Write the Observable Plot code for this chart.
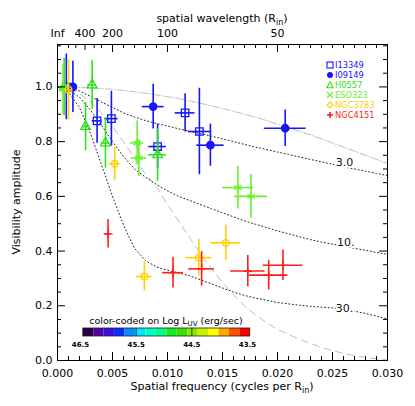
<!DOCTYPE html>
<html><head><meta charset="utf-8">
<script src="https://cdn.jsdelivr.net/npm/d3@7"></script>
<script src="https://cdn.jsdelivr.net/npm/@observablehq/plot@0.6"></script>
<style>
body{margin:0;background:#fff;}
#chart{width:415px;height:406px;position:relative;}
</style></head><body><div id="chart"></div>
<script>
// ---------- data ----------
const objects = ["I13349","I09149","H0557","ESO323","NGC3783","NGC4151"];
const objectColors = ["#1414ff","#1414ff","#2ee01c","#6cf02c","#ffd000","#ff1c1c"];

const i13349Freq = [0.0008, 0.0036, 0.0049, 0.0091, 0.0116, 0.0129];
const i13349Vis = [1.0, 0.876, 0.884, 0.782, 0.905, 0.837];
const i13349FreqErr = [0.0003, 0.00045, 0.0006, 0.0008, 0.0009, 0.001];
const i13349VisErr = [0.12, 0.082, 0.10, 0.082, 0.07, 0.158];

const i09149Freq = [0.0014, 0.0087, 0.0139, 0.0207];
const i09149Vis = [1.0, 0.928, 0.787, 0.849];
const i09149FreqErr = [0.0003, 0.001, 0.00124, 0.0019];
const i09149VisErr = [0.094, 0.082, 0.077, 0.067];

const h0557Freq = [0.0006, 0.00255, 0.00315, 0.00436, 0.0091];
const h0557Vis = [1.0, 0.855, 1.007, 0.795, 0.752];
const h0557FreqErr = [0.0003, 0.0003, 0.0004, 0.0004, 0.0008];
const h0557VisErr = [0.105, 0.088, 0.089, 0.092, 0.097];

const eso323Freq = [0.0005, 0.00724, 0.0074, 0.0164, 0.0176];
const eso323Vis = [0.99, 0.795, 0.74, 0.632, 0.60];
const eso323FreqErr = [0.0003, 0.0006, 0.0007, 0.0014, 0.0015];
const eso323VisErr = [0.09, 0.08, 0.067, 0.078, 0.08];

const ngc3783Freq = [0.001, 0.0052, 0.0079, 0.01285, 0.0153];
const ngc3783Vis = [0.99, 0.719, 0.307, 0.376, 0.43];
const ngc3783FreqErr = [0.0003, 0.0005, 0.0007, 0.00117, 0.00133];
const ngc3783VisErr = [0.11, 0.06, 0.052, 0.067, 0.064];

const ngc4151Freq = [0.0046, 0.0105, 0.0131, 0.0173, 0.0192, 0.0205];
const ngc4151Vis = [0.463, 0.321, 0.335, 0.327, 0.312, 0.348];
const ngc4151FreqErr = [0.0003, 0.00095, 0.00117, 0.00156, 0.00175, 0.0018];
const ngc4151VisErr = [0.052, 0.056, 0.063, 0.057, 0.054, 0.056];

// model curves
const curveFreq = [0,0.001,0.002,0.003,0.004,0.005,0.006,0.007,0.008,0.009,0.010,0.011,0.012,0.013,0.014,0.015,0.016,0.017,0.018,0.019,0.020,0.021,0.022,0.023,0.024,0.025,0.026,0.027,0.028,0.029,0.030];
const curve3 = [1.0,0.997,0.985,0.965,0.945,0.925,0.905,0.89,0.877,0.866,0.857,0.847,0.838,0.829,0.82,0.81,0.80,0.79,0.78,0.771,0.762,0.753,0.744,0.735,0.726,0.717,0.708,0.70,0.692,0.684,0.676];
const curve10 = [1.0,0.99,0.962,0.915,0.86,0.80,0.745,0.70,0.67,0.643,0.62,0.60,0.585,0.57,0.555,0.54,0.525,0.51,0.498,0.486,0.474,0.463,0.452,0.442,0.433,0.425,0.418,0.41,0.403,0.395,0.388];
const curve30 = [1.0,0.98,0.925,0.83,0.715,0.60,0.495,0.41,0.365,0.342,0.33,0.32,0.31,0.295,0.28,0.265,0.25,0.238,0.228,0.22,0.212,0.207,0.202,0.198,0.195,0.192,0.188,0.18,0.172,0.162,0.152];
const curveGrayDashDot = [1.0,0.9995,0.998,0.996,0.994,0.991,0.987,0.982,0.977,0.971,0.964,0.957,0.949,0.94,0.931,0.921,0.911,0.9,0.889,0.877,0.864,0.851,0.838,0.824,0.81,0.795,0.78,0.765,0.75,0.735,0.72];
const curveGrayDash = [1.0,0.994,0.975,0.945,0.905,0.855,0.80,0.74,0.68,0.635,0.57,0.51,0.45,0.39,0.335,0.285,0.24,0.20,0.167,0.138,0.114,0.095,0.078,0.062,0.048,0.036,0.026,0.018,0.011,0.006,0.003];
const curveLabels = ["3.0","10.","30."];
const curveLabelFreq = [0.0261, 0.0262, 0.0261];
const curveLabelVis = [0.724, 0.43, 0.192];

// axes
const bottomTicks = [0, 0.005, 0.010, 0.015, 0.020, 0.025, 0.030];
const yTicks = [0, 0.2, 0.4, 0.6, 0.8, 1.0];
const topWavelengths = [Infinity, 400, 200, 100, 50];
const topLabels = ["Inf", "400", "200", "100", "50"];
const topMinorWavelengths = [1000, 600, 300, 250];

// colour bar
const cbColors = ["#2a0040","#5800a8","#3a12e0","#0a2cff","#0a8cff","#00e6ff","#00ffc8","#00ff84","#10f020","#3ce000","#84ea00","#c8f000","#ffff00","#ffaa00","#ff5000","#ff0000"];
const cbTicks = [46.5, 45.5, 44.5, 43.5];
const cbStart = 46.45, cbEnd = 43.45;

// ---------- build ----------
const W = 415, H = 406, mL = 57, mR = 28, mT = 44, mB = 46;
const pW = W - mL - mR, pH = H - mT - mB;

const series = [
  {name: "I13349", f: i13349Freq, v: i13349Vis, fe: i13349FreqErr, ve: i13349VisErr, symbol: "square", fill: "none", r: 4.2},
  {name: "I09149", f: i09149Freq, v: i09149Vis, fe: i09149FreqErr, ve: i09149VisErr, symbol: "circle", fill: "color", r: 3.7},
  {name: "H0557", f: h0557Freq, v: h0557Vis, fe: h0557FreqErr, ve: h0557VisErr, symbol: "triangle", fill: "none", r: 3.6},
  {name: "ESO323", f: eso323Freq, v: eso323Vis, fe: eso323FreqErr, ve: eso323VisErr, symbol: "asterisk", fill: "none", r: 4},
  {name: "NGC3783", f: ngc3783Freq, v: ngc3783Vis, fe: ngc3783FreqErr, ve: ngc3783VisErr, symbol: "circle", fill: "none", r: 3.3},
  {name: "NGC4151", f: ngc4151Freq, v: ngc4151Vis, fe: ngc4151FreqErr, ve: ngc4151VisErr, symbol: "plus", fill: "none", r: 3}
];

const curveRows = curveFreq.map((f, i) => ({f, c3: curve3[i], c10: curve10[i], c30: curve30[i], gdd: curveGrayDashDot[i], gd: curveGrayDash[i]}));
const labelRows = curveLabels.map((t, i) => ({t, f: curveLabelFreq[i], v: curveLabelVis[i]}));

const bottomMinor = d3.range(0, 31).map(k => k / 1000).filter(f => !bottomTicks.some(t => Math.abs(t - f) < 1e-9));
const yMinor = d3.range(0, 24).map(k => k * 0.05).filter(v => v <= 1.155 && !yTicks.some(t => Math.abs(t - v) < 1e-9));
const topFreqs = topWavelengths.map(w => 1 / w);
const topLabelMap = new Map(topFreqs.map((f, i) => [f, topLabels[i]]));
const topMajor = topFreqs.filter((f, i) => topLabels[i] !== "400");
const topMid = topFreqs.filter((f, i) => topLabels[i] === "400");
const topMinor = topMinorWavelengths.map(w => 1 / w).concat(d3.range(6, 30).map(k => k / 1000).filter(f => Math.abs(f - 0.01) > 1e-9 && Math.abs(f - 0.02) > 1e-9));

const marks = [];
// curves
marks.push(Plot.line(curveRows, {x: "f", y: "gdd", stroke: "#bdbdbd", strokeWidth: 1, strokeDasharray: "7,2,1,2"}));
marks.push(Plot.line(curveRows, {x: "f", y: "gd", stroke: "#bdbdbd", strokeWidth: 1, strokeDasharray: "7,5"}));
for (const k of ["c3", "c10", "c30"]) {
  marks.push(Plot.line(curveRows, {x: "f", y: k, stroke: "#222", strokeWidth: 1, strokeDasharray: "1,2.6"}));
}
marks.push(Plot.text(labelRows, {x: "f", y: "v", text: "t", fill: "#111", stroke: "white", strokeWidth: 4, paintOrder: "stroke", fontSize: 11}));
// data
series.forEach((s, si) => {
  const color = objectColors[si];
  const rows = s.f.map((f, i) => ({f, v: s.v[i], fe: s.fe[i], ve: s.ve[i]}));
  marks.push(Plot.ruleX(rows, {x: "f", y1: d => d.v - d.ve, y2: d => d.v + d.ve, stroke: color, strokeWidth: 1.6}));
  marks.push(Plot.ruleY(rows, {y: "v", x1: d => d.f - d.fe, x2: d => d.f + d.fe, stroke: color, strokeWidth: 1.6}));
  marks.push(Plot.dot(rows, {x: "f", y: "v", symbol: s.symbol, r: s.r, stroke: color, strokeWidth: 1.3, fill: s.fill === "color" ? color : "none"}));
});
// ticks (inward, IDL style)
marks.push(Plot.gridX(bottomTicks, {stroke: "black", strokeOpacity: 1, insetTop: pH - 8}));
marks.push(Plot.gridX(bottomMinor, {stroke: "black", strokeOpacity: 1, insetTop: pH - 4}));
marks.push(Plot.gridX(topMajor, {stroke: "black", strokeOpacity: 1, insetBottom: pH - 8}));
marks.push(Plot.gridX(topMid, {stroke: "black", strokeOpacity: 1, insetBottom: pH - 6}));
marks.push(Plot.gridX(topMinor, {stroke: "black", strokeOpacity: 1, insetBottom: pH - 4}));
marks.push(Plot.gridY(yTicks, {stroke: "black", strokeOpacity: 1, insetRight: pW - 8}));
marks.push(Plot.gridY(yMinor, {stroke: "black", strokeOpacity: 1, insetRight: pW - 4}));
marks.push(Plot.gridY(yTicks, {stroke: "black", strokeOpacity: 1, insetLeft: pW - 8}));
marks.push(Plot.gridY(yMinor, {stroke: "black", strokeOpacity: 1, insetLeft: pW - 4}));
marks.push(Plot.frame({stroke: "black", strokeWidth: 1}));
marks.push(Plot.axisX({anchor: "bottom", ticks: bottomTicks, tickSize: 0, tickPadding: 9, tickFormat: d3.format(".3f"), label: null}));
marks.push(Plot.axisX({anchor: "top", ticks: topFreqs, tickSize: 0, tickPadding: 8, tickFormat: d => topLabelMap.get(d), label: null}));
marks.push(Plot.axisY({anchor: "left", ticks: yTicks, tickSize: 0, tickPadding: 5, tickFormat: d3.format(".1f"), label: null}));

const svgNode = Plot.plot({
  width: W, height: H, marginLeft: mL, marginRight: mR, marginTop: mT, marginBottom: mB,
  style: {fontFamily: "DejaVu Sans, sans-serif", fontSize: "11px", background: "white", color: "black"},
  x: {domain: [0, 0.03], axis: null},
  y: {domain: [0, 1.155], axis: null},
  marks
});
document.getElementById("chart").appendChild(svgNode);

const svg = d3.select(svgNode);
// text with subscripts: parts are strings or {t, dy, size}
function subText(g, x, y, parts, opts = {}) {
  const t = g.append("text").attr("x", x).attr("y", y).attr("text-anchor", opts.anchor || "middle")
    .attr("font-size", opts.size || 11).attr("fill", opts.fill || "black");
  if (opts.rotate) t.attr("transform", `rotate(${opts.rotate},${x},${y})`);
  let pending = 0;
  for (const p of parts) {
    if (typeof p === "string") {
      const sp = t.append("tspan").text(p);
      if (pending) { sp.attr("dy", pending); pending = 0; }
    } else {
      t.append("tspan").attr("dy", p.dy).attr("font-size", p.size).text(p.t);
      pending = -p.dy;
    }
  }
  return t;
}
// titles
subText(svg, mL + pW / 2, 22, ["spatial wavelength (R", {t: "in", dy: 2.5, size: 8}, ")"]);
subText(svg, mL + pW / 2, 390, ["Spatial frequency (cycles per R", {t: "in", dy: 3, size: 8}, ")"]);
subText(svg, 20, mT + pH / 2, ["Visibility amplitude"], {rotate: -90});

// legend
const legSym = ["square", "circle", "triangle", "times", "diamond", "plus"];
const legG = svg.append("g").attr("text-anchor", "start");
objects.forEach((name, i) => {
  const y = 65 + i * 10;
  const color = objectColors[i];
  const s = legSym[i];
  const cx = 330;
  if (s === "square") legG.append("rect").attr("x", cx - 3).attr("y", y - 3).attr("width", 6).attr("height", 6).attr("fill", "none").attr("stroke", color).attr("stroke-width", 1.1);
  else if (s === "circle") legG.append("circle").attr("cx", cx).attr("cy", y).attr("r", 3).attr("fill", color);
  else if (s === "triangle") legG.append("path").attr("d", `M${cx},${y - 3.2}L${cx + 3.2},${y + 2.8}L${cx - 3.2},${y + 2.8}Z`).attr("fill", "none").attr("stroke", color).attr("stroke-width", 1.1);
  else if (s === "times") legG.append("path").attr("d", `M${cx - 3},${y - 3}L${cx + 3},${y + 3}M${cx - 3},${y + 3}L${cx + 3},${y - 3}`).attr("stroke", color).attr("stroke-width", 1.1);
  else if (s === "diamond") legG.append("path").attr("d", `M${cx},${y - 3}L${cx + 3},${y}L${cx},${y + 3}L${cx - 3},${y}Z`).attr("fill", "none").attr("stroke", color).attr("stroke-width", 1.1);
  else legG.append("path").attr("d", `M${cx - 3},${y}L${cx + 3},${y}M${cx},${y - 3}L${cx},${y + 3}`).attr("stroke", color).attr("stroke-width", 1.6);
  legG.append("text").attr("x", 335).attr("y", y + 3).attr("font-size", 8.3).attr("fill", color).text(name);
});

// colour bar (its own small Plot, moved into the main svg)
const cbStep = (cbStart - cbEnd) / cbColors.length;
const cbRows = cbColors.map((c, i) => ({x1: cbStart - i * cbStep, x2: cbStart - (i + 1) * cbStep, c}));
const cb = Plot.plot({
  width: W, height: 60, marginTop: 28, marginBottom: 24, marginLeft: 0, marginRight: 0,
  style: {fontFamily: "DejaVu Sans, sans-serif", fontSize: "6.5px", background: "transparent"},
  x: {domain: [46.5, 43.5], range: [80, 247], axis: null},
  marks: [
    Plot.rect(cbRows, {x1: "x1", x2: "x2", fill: "c"}),
    Plot.ruleX([45.5, 44.5], {stroke: "#111", strokeWidth: 0.8}),
    Plot.rect([0], {x1: () => cbStart, x2: () => cbEnd, fill: "none", stroke: "#222", strokeWidth: 0.8}),
    Plot.text(cbTicks, {x: d => d, text: d => d.toFixed(1), frameAnchor: "bottom", dy: 10, fontSize: 7, fontWeight: "bold"})
  ]
});
const cbG = svg.append("g").attr("transform", "translate(0,300)")
  .attr("font-family", "DejaVu Sans, sans-serif").attr("font-size", 7).attr("text-anchor", "middle");
for (const child of Array.from(cb.childNodes)) {
  if (child.nodeName.toLowerCase() === "style") continue;
  cbG.node().appendChild(child);
}
subText(svg, 166, 324, ["color-coded on Log L", {t: "UV", dy: 2, size: 7}, " (erg/sec)"], {size: 9.5});
</script>
</body></html>
